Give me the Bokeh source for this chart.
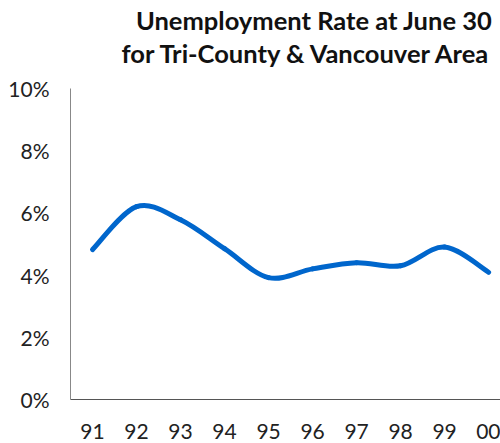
from bokeh.plotting import figure
from bokeh.models import Range1d, FixedTicker, Label
from bokeh.embed import file_html
from bokeh.resources import INLINE

years = ["91", "92", "93", "94", "95", "96", "97", "98", "99", "00"]
rate = [4.82, 6.2, 5.78, 4.85, 3.92, 4.2, 4.4, 4.3, 4.9, 4.09]
y_ticks = [0, 2, 4, 6, 8, 10]
y_labels = ["0%", "2%", "4%", "6%", "8%", "10%"]
title_lines = ["Unemployment Rate at June 30", "for Tri-County & Vancouver Area"]

FONT = "Lato"
xs = list(range(len(years)))

# frame spans the full height above the x axis; extra headroom holds the title
p = figure(width=500, height=443, output_backend="svg", toolbar_location=None,
           x_range=Range1d(-0.5, 9.27), y_range=Range1d(0, 12.83),
           min_border_left=70, min_border_right=0, min_border_bottom=44, min_border_top=0)
p.outline_line_color = None
p.xgrid.visible = False
p.ygrid.visible = False

# smoothed line (Catmull-Rom style bezier segments through the data points)
n = len(xs)
def pt(i):
    i = max(0, min(n - 1, i))
    return xs[i], rate[i]
x0, y0, x1, y1, cx0, cy0, cx1, cy1 = [], [], [], [], [], [], [], []
for i in range(n - 1):
    pa, pb, pc, pd = pt(i - 1), pt(i), pt(i + 1), pt(i + 2)
    x0.append(pb[0]); y0.append(pb[1]); x1.append(pc[0]); y1.append(pc[1])
    cx0.append(pb[0] + (pc[0] - pa[0]) / 6); cy0.append(pb[1] + (pc[1] - pa[1]) / 6)
    cx1.append(pc[0] - (pd[0] - pb[0]) / 6); cy1.append(pc[1] - (pd[1] - pb[1]) / 6)
p.bezier(x0=x0, y0=y0, x1=x1, y1=y1, cx0=cx0, cy0=cy0, cx1=cx1, cy1=cy1,
         line_color="#0066cc", line_width=5, line_cap="round")

p.xaxis.ticker = FixedTicker(ticks=xs)
p.xaxis.major_label_overrides = {i: y for i, y in enumerate(years)}
p.yaxis.ticker = FixedTicker(ticks=y_ticks)
p.yaxis.major_label_overrides = {t: l for t, l in zip(y_ticks, y_labels)}
p.yaxis.bounds = (y_ticks[0], y_ticks[-1])
for ax in (p.xaxis, p.yaxis):
    ax.major_tick_line_color = None
    ax.minor_tick_line_color = None
    ax.major_label_text_font = FONT
    ax.major_label_text_font_size = "21px"
    ax.major_label_text_color = "#222222"
p.xaxis.axis_line_color = "#555555"
p.yaxis.axis_line_color = "#888888"
p.xaxis.major_label_standoff = 18
p.yaxis.major_label_standoff = 15

for line, off in zip(title_lines, (69, 36)):
    p.add_layout(Label(x=p.x_range.end, y=y_ticks[-1], text=line,
                       text_align="right", text_baseline="alphabetic",
                       x_offset=-8, y_offset=off, text_font=FONT,
                       text_font_size="25.5px", text_font_style="bold",
                       text_color="#111111"))

open("out.html", "w").write(file_html(p, INLINE))
